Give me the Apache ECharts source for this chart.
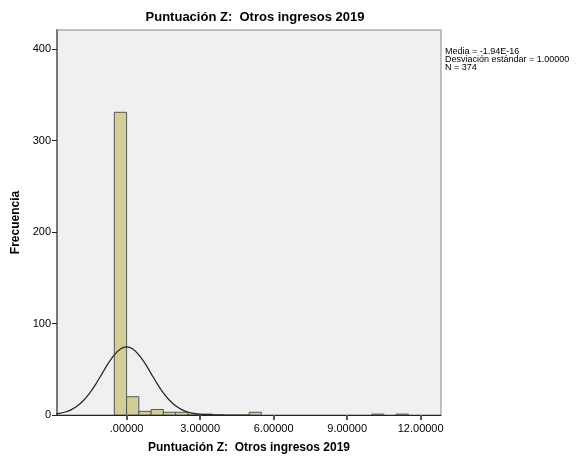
<!DOCTYPE html>
<html>
<head>
<meta charset="utf-8">
<script src="https://cdn.jsdelivr.net/npm/echarts@6/dist/echarts.min.js"></script>
<style>
html,body{margin:0;padding:0;background:#fff;}
#c{width:578px;height:462px;}
</style>
</head>
<body>
<div id="c"></div>
<script>
// Histogram bins (start of each 0.5-wide bin) and counts
const binStarts = [-0.5, 0, 0.5, 1, 1.5, 2, 2.5, 3, 5, 10, 11];
const binCounts = [331, 20, 4, 6, 3, 3, 1, 1, 3, 1, 1];
const binWidth = 0.5;
// Normal curve
const curveX = [-3, -2.75, -2.5, -2.25, -2, -1.75, -1.5, -1.25, -1, -0.75, -0.5, -0.25, 0, 0.25, 0.5, 0.75, 1, 1.25, 1.5, 1.75, 2, 2.25, 2.5, 2.75, 3, 3.25, 3.5, 4, 5];
const curveY = [0.8, 1.7, 3.3, 5.9, 10.1, 16.1, 24.2, 34.1, 45.3, 56.4, 65.8, 72.3, 74.6, 72.3, 65.8, 56.4, 45.3, 34.1, 24.2, 16.1, 10.1, 5.9, 3.3, 1.7, 0.8, 0.4, 0.2, 0.03, 0];
const xTicks = [0, 3, 6, 9, 12];
const yTicks = [0, 100, 200, 300, 400];
const statsLines = ['Media = -1.94E-16', 'Desviación estándar = 1.00000', 'N = 374'];

const FONT = '"Liberation Sans", Arial, sans-serif';
const chart = echarts.init(document.getElementById('c'), null, {renderer: 'canvas'});

const histData = binStarts.map((s, i) => [s, binCounts[i]]);
const curveData = curveX.map((x, i) => [x, curveY[i]]);

chart.setOption({
  animation: false,
  backgroundColor: '#ffffff',
  title: {
    text: 'Puntuación Z:  Otros ingresos 2019',
    left: 250, top: 6, textAlign: 'center',
    textStyle: {fontFamily: FONT, fontSize: 13, fontWeight: 'bold', color: '#000'}
  },
  grid: {
    left: 57, right: 137, top: 30, bottom: 47,
    show: true, backgroundColor: '#f0f0f0', borderColor: '#888', borderWidth: 1
  },
  xAxis: {
    type: 'value', min: -2.84, max: 12.83,
    name: 'Puntuación Z:  Otros ingresos 2019',
    nameLocation: 'middle', nameGap: 27,
    nameTextStyle: {fontFamily: FONT, fontSize: 12, fontWeight: 'bold', color: '#000'},
    splitLine: {show: false},
    axisLine: {show: true, onZero: false, lineStyle: {color: '#222', width: 1}},
    axisTick: {show: true, customValues: xTicks, length: 5, lineStyle: {color: '#555', width: 2}},
    axisLabel: {
      customValues: xTicks, margin: 8,
      fontFamily: FONT, fontSize: 11, color: '#000',
      formatter: v => v === 0 ? '.00000' : v.toFixed(5)
    }
  },
  yAxis: {
    type: 'value', min: 0, max: 421,
    name: 'Frecuencia', nameLocation: 'middle', nameGap: 31, nameRotate: 90,
    nameTextStyle: {fontFamily: FONT, fontSize: 12, fontWeight: 'bold', color: '#000'},
    splitLine: {show: false},
    axisLine: {show: true, onZero: false, lineStyle: {color: '#777', width: 2}},
    axisTick: {show: true, customValues: yTicks, length: 5, lineStyle: {color: '#222', width: 1}},
    axisLabel: {customValues: yTicks, margin: 6, fontFamily: FONT, fontSize: 11, color: '#000'}
  },
  series: [
    {
      type: 'custom',
      data: histData,
      renderItem: function (params, api) {
        const s = api.value(0), c = api.value(1);
        const p0 = api.coord([s, c]);
        const p1 = api.coord([s + binWidth, 0]);
        return {
          type: 'rect',
          shape: {x: p0[0], y: p0[1], width: p1[0] - p0[0], height: p1[1] - p0[1]},
          style: {fill: '#d3ce97', stroke: '#555', lineWidth: 1}
        };
      },
      clip: true
    },
    {
      type: 'line', data: curveData, smooth: 0.3, showSymbol: false,
      lineStyle: {color: '#222', width: 1.2}, clip: true, z: 5
    }
  ],
  graphic: [{
    type: 'text', left: 445, top: 47,
    style: {
      text: statsLines.join('\n'),
      fontFamily: FONT, fontSize: 9, lineHeight: 8, fill: '#000'
    }
  }]
});
</script>
</body>
</html>
